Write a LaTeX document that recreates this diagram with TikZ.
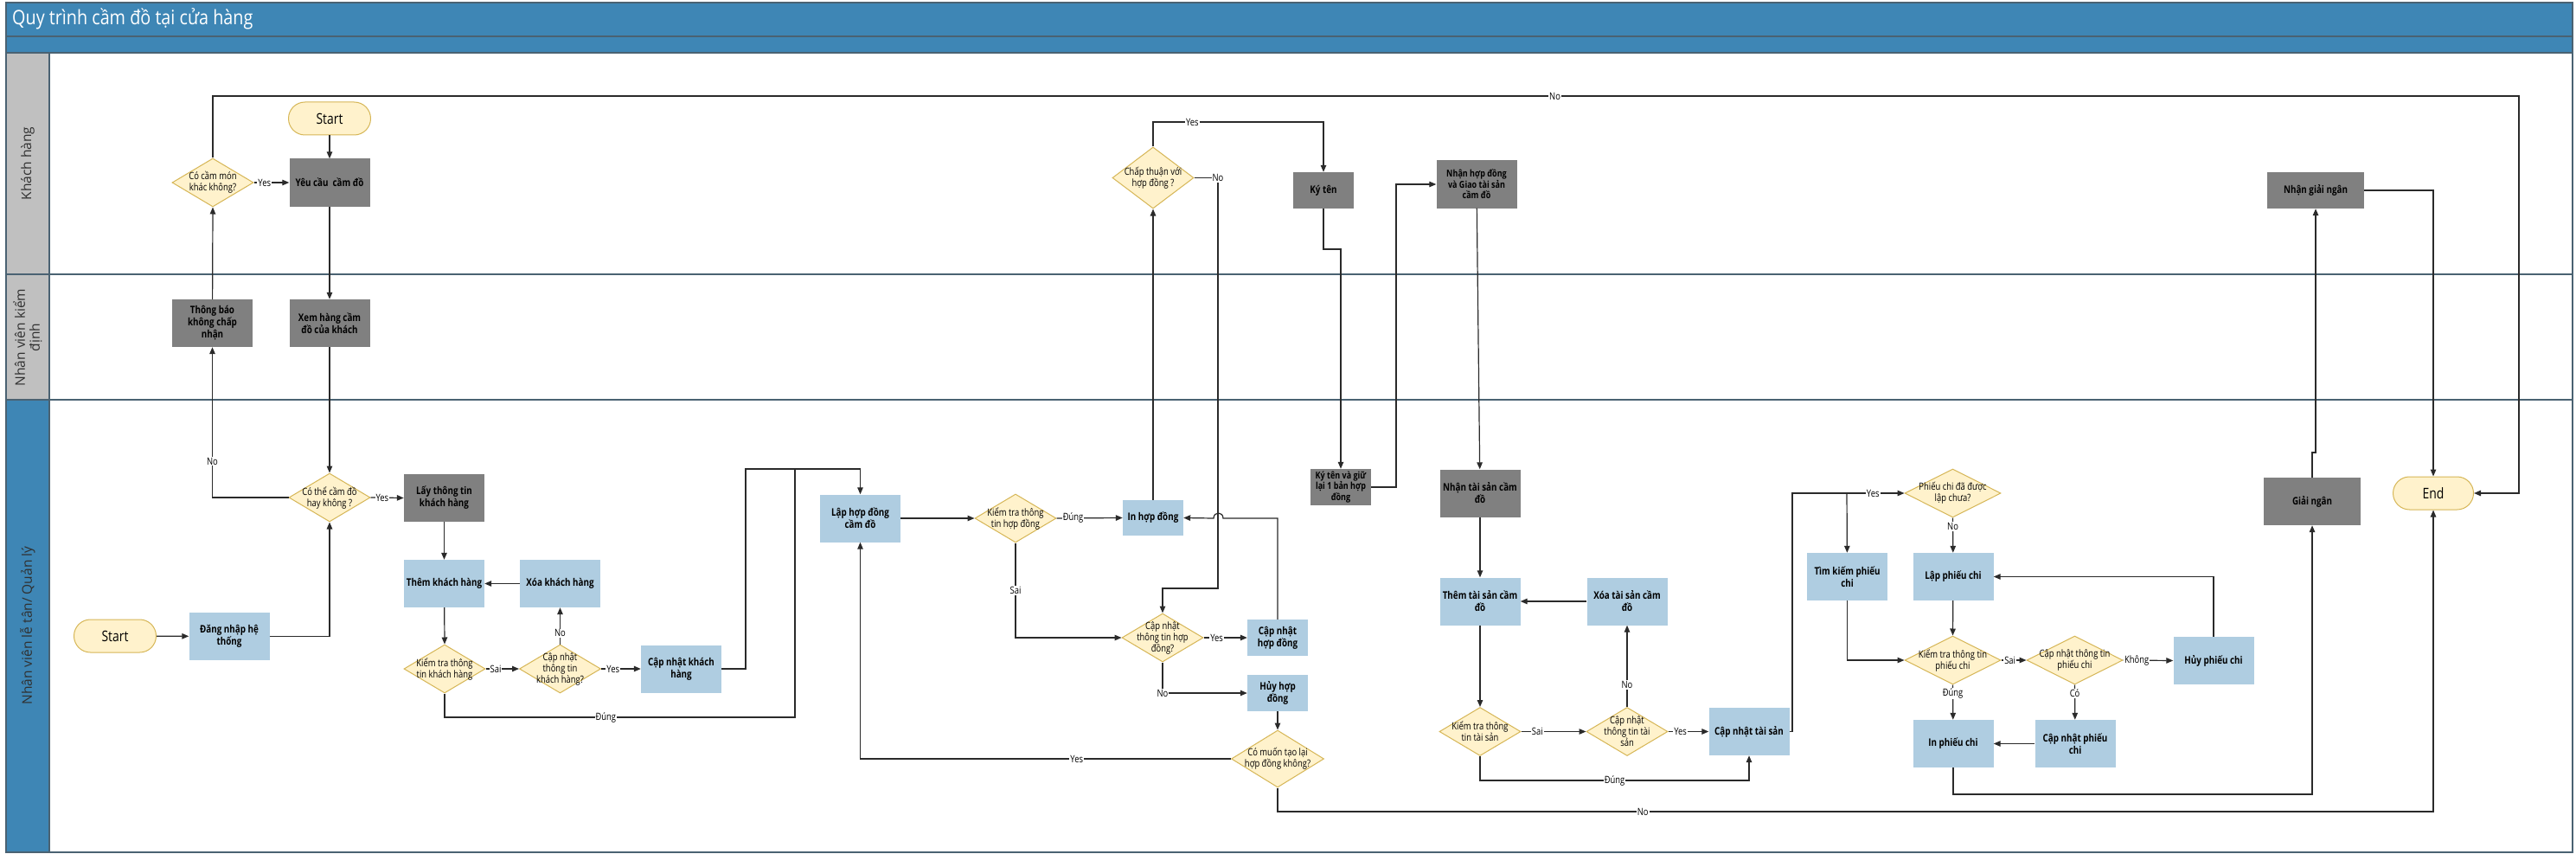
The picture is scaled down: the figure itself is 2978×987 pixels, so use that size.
\documentclass[tikz,border=0pt]{standalone}
\usepackage{fontspec}
\setmainfont{Open Sans}
\newfontfamily\nf[FakeStretch=0.82]{Open Sans}
\newfontfamily\tf[FakeStretch=0.86]{Open Sans}
\usetikzlibrary{shapes.geometric,arrows.meta}
\definecolor{hdrblue}{HTML}{3E86B5}
\definecolor{lanegrey}{HTML}{C0C0C0}
\definecolor{laneline}{HTML}{4A6272}
\definecolor{boxgrey}{HTML}{808080}
\definecolor{boxblue}{HTML}{AFCDE1}
\definecolor{decfill}{HTML}{FFF2CC}
\definecolor{decline}{HTML}{D6B656}
\definecolor{lbltext}{HTML}{303030}
\definecolor{conn}{HTML}{2A2A2A}
\begin{document}
\begin{tikzpicture}[x=1pt,y=-1pt,
  boxbase/.style={rectangle, minimum width=93pt, minimum height=55pt, inner sep=1pt, align=center, text=black, font=\nf\bfseries\fontsize{12}{14}\selectfont},
  gbox/.style={boxbase, fill=boxgrey},
  bbox/.style={boxbase, fill=boxblue},
  dec/.style={diamond, fill=decfill, draw=decline, line width=1pt, inner sep=0pt, minimum width=94pt, minimum height=56pt},
  dtext/.style={align=center, inner sep=0pt, text=black, font=\nf\fontsize{11.5}{13}\selectfont},
  term/.style={rectangle, rounded corners=19pt, fill=decfill, draw=decline, line width=1pt, minimum width=95pt, minimum height=38pt, text=black, font=\nf\fontsize{17}{18}\selectfont},
  ln/.style={draw=conn, line width=1.2pt},
  arr/.style={ln, -{Triangle[length=8pt,width=6.5pt]}},
  lbl/.style={fill=white, inner sep=1pt, text=black, font=\nf\fontsize{11.5}{12}\selectfont},
  lanetxt/.style={rotate=90, align=center, text=lbltext, font=\fontsize{15.5}{17}\selectfont},
]
\useasboundingbox (0,0) rectangle (2978,987);
% ---------- frame ----------
\fill[white] (0,0) rectangle (2978,987);
\fill[hdrblue] (7,3) rectangle (2974,61);
\fill[lanegrey] (7,61) rectangle (57,462);
\fill[hdrblue] (7,462) rectangle (57,985);
\draw[laneline, line width=1.5pt] (7,42) -- (2974,42);
\draw[laneline, line width=2pt] (7,61) -- (2974,61);
\draw[laneline, line width=2pt] (7,317) -- (2974,317);
\draw[laneline, line width=2pt] (7,462) -- (2974,462);
\draw[laneline, line width=1.2pt] (57,61) -- (57,985);
\draw[laneline, line width=1.5pt] (7,3) rectangle (2974,985);
\node[anchor=west, inner sep=0pt, text=white, font=\tf\fontsize{23}{25}\selectfont] (title) at (14,22) {Quy trình cầm đồ tại cửa hàng};
\node[lanetxt] (lane1) at (32,189) {Khách hàng};
\node[lanetxt] (lane2) at (32,390) {Nhân viên kiểm\\định};
\node[lanetxt] (lane3) at (32,723) {Nhân viên lễ tân/ Quản lý};
% ---------- nodes: Khách hàng ----------
\node[term] (start1) at (381,137) {Start};
\node[gbox] (yeucau) at (381,211) {Yêu cầu\ \ cầm đồ};
\node[dec] (cocam) at (246,211) {};
\node[dtext] (cocam-t) at (cocam) {Có cầm món\\khác không?};
\node[dec, minimum height=71pt] (chapthuan) at (1333,205.5) {};
\node[dtext] (chapthuan-t) at (chapthuan) {Chấp thuận với\\hợp đồng ?};
\node[gbox, minimum width=70pt, minimum height=42pt] (kyten) at (1530,220) {Ký tên};
\node[gbox, font=\nf\bfseries\fontsize{11}{12.5}\selectfont] (nhanhd) at (1707,213) {Nhận hợp đồng\\và Giao tài sản\\cầm đồ};
\node[gbox, minimum width=112pt, minimum height=42pt] (nhangn) at (2677,220) {Nhận giải ngân};
% ---------- nodes: Nhân viên kiểm định ----------
\node[gbox] (thongbao) at (245.5,373.5) {Thông báo\\không chấp\\nhận};
\node[gbox] (xemhang) at (381,373.5) {Xem hàng cầm\\đồ của khách};
% ---------- nodes: Nhân viên lễ tân ----------
\node[dec] (cothe) at (381,575) {};
\node[dtext] (cothe-t) at (cothe) {Có thể cầm đồ\\hay không ?};
\node[gbox] (laythong) at (513.5,575.5) {Lấy thông tin\\khách hàng};
\node[bbox] (themkh) at (513.5,674.5) {Thêm khách hàng};
\node[bbox] (xoakh) at (647.5,674.5) {Xóa khách hàng};
\node[term] (start2) at (133,735) {Start};
\node[bbox] (dangnhap) at (265,735.5) {Đăng nhập hệ\\thống};
\node[dec] (ktkh) at (514,773) {};
\node[dtext] (ktkh-t) at (ktkh) {Kiểm tra thông\\tin khách hàng};
\node[dec] (cnttkh) at (647.5,773) {};
\node[dtext] (cnttkh-t) at (cnttkh) {Cập nhật\\thông tin\\khách hàng?};
\node[bbox] (cnkh) at (787.5,773) {Cập nhật khách\\hàng};
\node[bbox] (laphd) at (994.5,599) {Lập hợp đồng\\cầm đồ};
\node[dec] (kthd) at (1174,599) {};
\node[dtext] (kthd-t) at (kthd) {Kiểm tra thông\\tin hợp đồng};
\node[bbox, minimum width=70pt, minimum height=41pt] (inhd) at (1333,598.5) {In hợp đồng};
\node[dec] (cntthd) at (1344,737) {};
\node[dtext] (cntthd-t) at (cntthd) {Cập nhật\\thông tin hợp\\đồng?};
\node[bbox, minimum width=70pt, minimum height=42pt] (cnhd) at (1477,737) {Cập nhật\\hợp đồng};
\node[bbox, minimum width=70pt, minimum height=42pt] (huyhd) at (1477,801) {Hủy hợp\\đồng};
\node[dec, minimum width=107pt, minimum height=66pt] (comuon) at (1477,877) {};
\node[dtext] (comuon-t) at (comuon) {Có muốn tạo lại\\hợp đồng không?};
\node[gbox, minimum width=70pt, minimum height=42pt, font=\nf\bfseries\fontsize{11}{12.5}\selectfont] (kytengiu) at (1550,563) {Ký tên và giữ\\lại 1 bản hợp\\đồng};
\node[gbox] (nhants) at (1711,570) {Nhận tài sản cầm\\đồ};
\node[bbox] (themts) at (1711,695) {Thêm tài sản cầm\\đồ};
\node[bbox] (xoats) at (1881,695) {Xóa tài sản cầm\\đồ};
\node[dec] (ktts) at (1711,845.5) {};
\node[dtext] (ktts-t) at (ktts) {Kiểm tra thông\\tin tài sản};
\node[dec] (cnttts) at (1881,845.5) {};
\node[dtext] (cnttts-t) at (cnttts) {Cập nhật\\thông tin tài\\sản};
\node[bbox] (cnts) at (2022,845.5) {Cập nhật tài sản};
\node[dec, minimum width=111pt] (pcdl) at (2257.5,570) {};
\node[dtext] (pcdl-t) at (pcdl) {Phiếu chi đã được\\lập chưa?};
\node[bbox] (timkiem) at (2135.5,666.5) {Tìm kiếm phiếu\\chi};
\node[bbox] (lappc) at (2258,666.5) {Lập phiếu chi};
\node[dec, minimum width=111pt] (ktpc) at (2257.5,763) {};
\node[dtext] (ktpc-t) at (ktpc) {Kiểm tra thông tin\\phiếu chi};
\node[dec, minimum width=111pt] (cnttpc) at (2398.5,763) {};
\node[dtext] (cnttpc-t) at (cnttpc) {Cập nhật thông tin\\phiếu chi};
\node[bbox] (huypc) at (2559,763.5) {Hủy phiếu chi};
\node[bbox] (inpc) at (2258,859.5) {In phiếu chi};
\node[bbox] (cnpc) at (2399,859.5) {Cập nhật phiếu\\chi};
\node[gbox, minimum width=112pt] (giaingan) at (2673,579.5) {Giải ngân};
\node[term, minimum width=93pt] (endn) at (2813,570) {End};
\coordinate (br1) at (2135,570);
% ---------- connectors ----------
\draw[arr] (start1) -- (yeucau);
\draw[arr] (cocam.east) -- node[lbl, pos=0.3]{Yes} (yeucau.west);
\draw[arr] (yeucau) -- (xemhang);
\draw[arr] (thongbao) -- (cocam.south);
\draw[arr] (cocam.north) -- (246,111) -- node[lbl, pos=0.582]{No} (2912,111) -- (2912,570) -- (endn.east);
\draw[arr] (xemhang) -- (cothe.north);
\draw[arr] (cothe.west) -| node[lbl, pos=0.62]{No} (thongbao.south);
\draw[arr] (cothe.east) -- node[lbl, pos=0.35]{Yes} (laythong.west);
\draw[arr] (start2) -- (dangnhap);
\draw[arr] (dangnhap.east) -| (cothe.south);
\draw[arr] (laythong) -- (themkh);
\draw[arr] (themkh) -- (ktkh.north);
\draw[arr] (xoakh) -- (themkh);
\draw[arr] (ktkh.east) -- node[lbl, pos=0.3]{Sai} (cnttkh.west);
\draw[arr] (cnttkh.north) -- node[lbl, pos=0.3]{No} (xoakh);
\draw[arr] (cnttkh.east) -- node[lbl, pos=0.3]{Yes} (cnkh.west);
\draw[arr] (cnkh.east) -- (862,773) -- (862,542) -| (laphd.north);
\draw[ln] (ktkh.south) -- (514,829) -- node[lbl, pos=0.46]{Đúng} (919,829) -- (919,542);
\draw[arr] (laphd) -- (kthd.west);
\draw[arr] (kthd.east) -- node[lbl, pos=0.25]{Đúng} (inhd.west);
\draw[arr] (kthd.south) |- node[lbl, pos=0.25]{Sai} (cntthd.west);
\draw[arr] (inhd) -- (chapthuan.south);
\draw[arr] (chapthuan.north) -- (1333,141) -- node[lbl, pos=0.23]{Yes} (1530,141) -- (kyten.north);
\draw[arr] (chapthuan.east) -- (1408,205.5) node[lbl]{No} -- (1408,680) -| (cntthd.north);
\draw[arr] (cnhd.north) -- (1477,599) -- (1414,599) .. controls (1414,591) and (1403,591) .. (1403,599) -- (inhd.east);
\draw[arr] (cntthd.east) -- node[lbl, pos=0.3]{Yes} (cnhd.west);
\draw[arr] (cntthd.south) -- (1344,801) node[lbl]{No} -- (huyhd.west);
\draw[arr] (huyhd) -- (comuon.north);
\draw[arr] (comuon.west) -| node[lbl, pos=0.208]{Yes} (laphd.south);
\draw[arr] (comuon.south) -- (1477,938) -- node[lbl, pos=0.316]{No} (2813,938) -- (endn.south);
\draw[arr] (kyten.south) -- (1530,288) -| (kytengiu.north);
\draw[arr] (kytengiu.east) -- (1614,563) |- (nhanhd.west);
\draw[arr] (nhanhd) -- (nhants);
\draw[arr] (nhants) -- (themts);
\draw[arr] (themts) -- (ktts.north);
\draw[arr] (xoats) -- (themts);
\draw[arr] (ktts.east) -- node[lbl, pos=0.25]{Sai} (cnttts.west);
\draw[arr] (cnttts.north) -- node[lbl, pos=0.27]{No} (xoats);
\draw[arr] (cnttts.east) -- node[lbl, pos=0.3]{Yes} (cnts.west);
\draw[arr] (ktts.south) -- (1711,902) -| node[lbl, pos=0.25]{Đúng} (cnts.south);
\draw[arr] (cnts.east) -- (2072,845.5) -- (2072,570) -- node[lbl, pos=0.72]{Yes} (pcdl.west);
\draw[arr] (br1) -- (timkiem);
\draw[arr] (pcdl.south) -- node[lbl, pos=0.25]{No} (lappc);
\draw[arr] (timkiem.south) |- (ktpc.west);
\draw[arr] (lappc) -- (ktpc.north);
\draw[arr] (ktpc.east) -- node[lbl, pos=0.35]{Sai} (cnttpc.west);
\draw[arr] (ktpc.south) -- node[lbl, pos=0.25]{Đúng} (inpc);
\draw[arr] (cnttpc.east) -- node[lbl, pos=0.27]{Không} (huypc.west);
\draw[arr] (cnttpc.south) -- node[lbl, pos=0.25]{Có} (cnpc);
\draw[arr] (cnpc) -- (inpc);
\draw[arr] (huypc.north) |- (lappc.east);
\draw[arr] (inpc.south) -- (2258,918) -| (giaingan.south);
\draw[arr] (giaingan.north) -- (2673,523) -| (nhangn.south);
\draw[arr] (nhangn.east) -| (endn.north);
\end{tikzpicture}
\end{document}
